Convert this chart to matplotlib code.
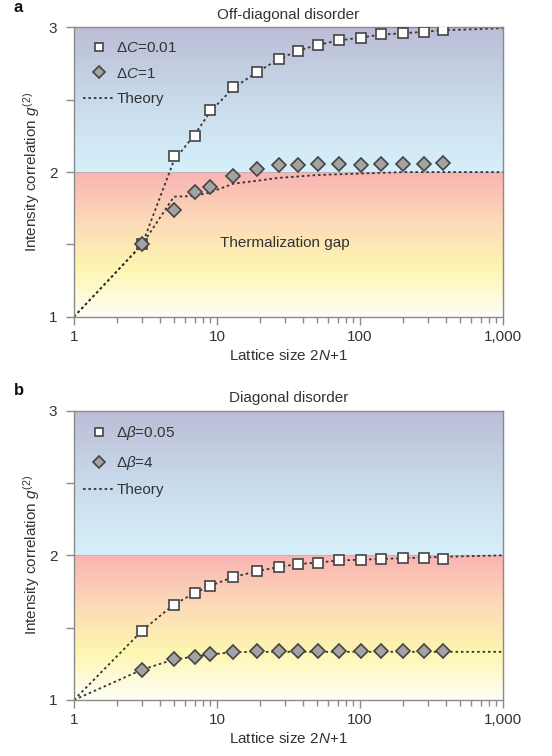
import numpy as np
import matplotlib
matplotlib.use("Agg")
import matplotlib.pyplot as plt
from matplotlib.colors import LinearSegmentedColormap
from matplotlib.ticker import FixedLocator, LogLocator, NullFormatter

plt.rcParams['font.family'] = ['Liberation Sans', 'DejaVu Sans']
plt.rcParams['mathtext.fontset'] = 'custom'
plt.rcParams['mathtext.rm'] = 'Liberation Sans'
plt.rcParams['mathtext.it'] = 'Liberation Sans:italic'

# ---- data ----
lattice = [3, 5, 7, 9, 13, 19, 27, 37, 51, 71, 101, 141, 201, 281, 381]
theory_x = [1, 3, 5, 7, 9, 13, 19, 27, 37, 51, 71, 101, 141, 201, 281, 381, 1000]

a_sq = [1.5, 2.11, 2.25, 2.43, 2.59, 2.69, 2.78, 2.84, 2.88, 2.91, 2.93, 2.955, 2.96, 2.97, 2.98]
a_di = [1.5, 1.74, 1.86, 1.90, 1.97, 2.02, 2.046, 2.046, 2.058, 2.058, 2.05, 2.055, 2.055, 2.055, 2.06]
a_th_sq = [1, 1.5, 2.08, 2.26, 2.42, 2.58, 2.69, 2.78, 2.84, 2.88, 2.91, 2.93, 2.95, 2.96, 2.97, 2.98, 2.995]
a_th_di = [1, 1.5, 1.83, 1.835, 1.86, 1.92, 1.94, 1.96, 1.97, 1.98, 1.985, 1.99, 1.995, 2.0, 2.0, 2.0, 2.0]

b_sq = [1.48, 1.66, 1.74, 1.79, 1.85, 1.89, 1.92, 1.94, 1.95, 1.965, 1.97, 1.975, 1.98, 1.98, 1.975]
b_di = [1.207, 1.28, 1.30, 1.317, 1.333, 1.338, 1.338, 1.338, 1.338, 1.338, 1.338, 1.338, 1.338, 1.338, 1.338]
b_th_sq = [1, 1.48, 1.66, 1.74, 1.79, 1.85, 1.89, 1.92, 1.94, 1.95, 1.965, 1.97, 1.975, 1.98, 1.985, 1.99, 2.0]
b_th_di = [1, 1.21, 1.28, 1.30, 1.315, 1.33, 1.333, 1.333, 1.333, 1.333, 1.333, 1.333, 1.333, 1.333, 1.333, 1.333, 1.333]

panels = [
    dict(tag='a', title='Off-diagonal disorder', sq=a_sq, di=a_di, th_sq=a_th_sq, th_di=a_th_di,
         lab_sq=r'$\Delta C$=0.01', lab_di=r'$\Delta C$=1', gap=True),
    dict(tag='b', title='Diagonal disorder', sq=b_sq, di=b_di, th_sq=b_th_sq, th_di=b_th_di,
         lab_sq=r'$\Delta\beta$=0.05', lab_di=r'$\Delta\beta$=4', gap=False),
]

TXT = '#333333'
SPINE = '#8a8a8a'

# background gradient (value from 1 at bottom to 3 at top)
upper = LinearSegmentedColormap.from_list('up', ['#d6f0fb', '#c9daeb', '#bbbdd6'])
lower = LinearSegmentedColormap.from_list('lo', ['#fefef6', '#fdf6b0', '#fcd9b8', '#f9b4b2'])
n = 600
vals = np.linspace(3, 1, n)
img = np.zeros((n, 1, 4))
for i, v in enumerate(vals):
    img[i, 0] = upper(v - 2) if v >= 2 else lower(v - 1)

fig = plt.figure(figsize=(5.52, 7.56), dpi=100)
axes_pos = [[0.134, 0.581, 0.777, 0.3827], [0.134, 0.0741, 0.777, 0.3826]]

for p, pos in zip(panels, axes_pos):
    ax = fig.add_axes(pos)
    ax.set_xscale('log')
    ax.set_xlim(1, 1000)
    ax.set_ylim(1, 3)
    ax.imshow(img, extent=[0, 1, 0, 1], transform=ax.transAxes, aspect='auto', zorder=0)

    th_style = dict(color='#333333', lw=1.3, linestyle=(0, (1.4, 1.6)), zorder=2)
    ax.plot(theory_x, p['th_sq'], **th_style)
    h_th, = ax.plot(theory_x, p['th_di'], **th_style, label='Theory')
    h_sq, = ax.plot(lattice, p['sq'], linestyle='none', marker='s', ms=7.2, mfc='white',
                    mec='#444444', mew=1.2, zorder=3, label=p['lab_sq'])
    h_di, = ax.plot(lattice, p['di'], linestyle='none', marker='D', ms=7.2, mfc='#a3a3a3',
                    mec='#444444', mew=1.2, zorder=3, label=p['lab_di'])

    ax.legend([h_sq, h_di, h_th], [p['lab_sq'], p['lab_di'], 'Theory'],
              loc='upper left', bbox_to_anchor=(-0.01, 1.0), frameon=False,
              fontsize=11, labelspacing=0.75, handlelength=2.0, handletextpad=0.15,
              markerscale=0.8, labelcolor=TXT)

    if p['gap']:
        ax.text(30, 1.51, 'Thermalization gap', ha='center', va='center', fontsize=11, color=TXT)

    ax.axhline(2, color='#b0b0b0', lw=0.5, zorder=1)

    for s in ax.spines.values():
        s.set_color(SPINE)
        s.set_linewidth(1.0)
    ax.yaxis.set_major_locator(FixedLocator([1, 2, 3]))
    ax.yaxis.set_minor_locator(FixedLocator([1.5, 2.5]))
    ax.set_yticklabels(['1', '2', '3'])
    ax.xaxis.set_major_locator(FixedLocator([1, 10, 100, 1000]))
    ax.xaxis.set_minor_locator(LogLocator(base=10, subs=np.arange(2, 10), numticks=20))
    ax.xaxis.set_minor_formatter(NullFormatter())
    ax.set_xticklabels(['1', '10', '100', '1,000'])
    ax.tick_params(which='both', direction='out', color=SPINE, labelcolor=TXT, labelsize=11)
    ax.tick_params(which='major', length=6, width=1)
    ax.tick_params(which='minor', length=4, width=1)
    ax.tick_params(axis='y', which='both', length=6, pad=6)

    ax.set_xlabel(r'Lattice size $2N\!+\!1$', fontsize=11, color=TXT, labelpad=3)
    ax.set_ylabel(r'Intensity correlation $g^{(2)}$', fontsize=11, color=TXT, labelpad=5)
    ax.set_title(p['title'], fontsize=11, color=TXT, pad=6)
    ax.text(-0.14, 1.07, p['tag'], transform=ax.transAxes, fontsize=12, fontweight='bold',
            color='#111111', va='center')

fig.savefig('out.png', dpi=100)
